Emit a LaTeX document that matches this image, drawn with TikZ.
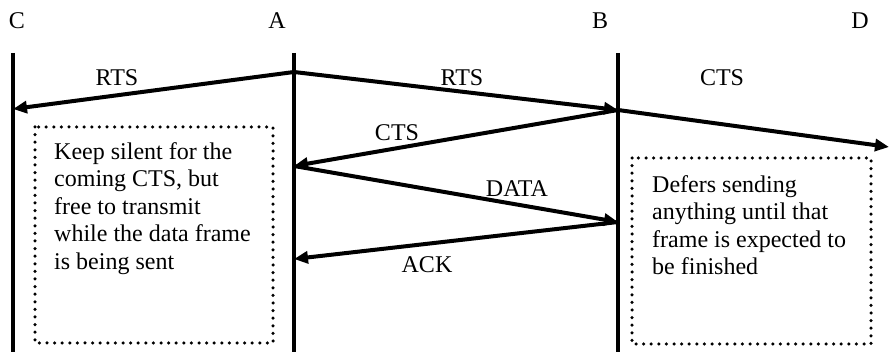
\documentclass[tikz,border=0pt]{standalone}
\usepackage{fontspec}
\setmainfont{Liberation Serif}
\usetikzlibrary{arrows.meta}
\begin{document}
\begin{tikzpicture}[x=1pt,y=-1pt,
  lifeline/.style={line width=4pt},
  msg/.style={line width=4pt,-{Triangle[length=14pt,width=12pt]}},
  dotbox/.style={line width=3.5pt,line cap=round,dash pattern=on 0pt off 7.6pt},
  lbl/.style={font=\fontsize{24}{27.5}\selectfont,inner sep=0pt},
  boxtext/.style={font=\fontsize{24}{27.6}\selectfont,inner sep=0pt,align=left,anchor=north west}]
\useasboundingbox (0,0) rectangle (889,352);
% station labels
\node[lbl] (labC) at (17,21) {C};
\node[lbl] (labA) at (277,21) {A};
\node[lbl] (labB) at (600,21) {B};
\node[lbl] (labD) at (860,21) {D};
% lifelines
\coordinate (Ctop) at (13,53); \coordinate (Cbot) at (13,352);
\coordinate (Atop) at (294,53); \coordinate (Abot) at (294,352);
\coordinate (Btop) at (618,53); \coordinate (Bbot) at (618,352);
\draw[lifeline] (Ctop) -- (Cbot);
\draw[lifeline] (Atop) -- (Abot);
\draw[lifeline] (Btop) -- (Bbot);
% message points
\coordinate (A1) at (294,72);
\coordinate (C1) at (13,109);
\coordinate (B1) at (618,110);
\coordinate (D1) at (889,147);
\coordinate (A2) at (294,166);
\coordinate (B2) at (618,222);
\coordinate (A3) at (294,259);
\draw[msg] (A1) -- (C1);
\draw[msg] (A1) -- (B1);
\draw[msg] (B1) -- (A2);
\draw[msg] (B1) -- (D1);
\draw[msg] (A2) -- (B2);
\draw[msg] (B2) -- (A3);
% message labels
\node[lbl] (rts1) at (117,78) {RTS};
\node[lbl] (rts2) at (462,78) {RTS};
\node[lbl] (cts1) at (397,133) {CTS};
\node[lbl] (cts2) at (722,78) {CTS};
\node[lbl] (data) at (517,189) {DATA};
\node[lbl] (ack) at (427,265) {ACK};
% dotted boxes
\coordinate (L1) at (35,127); \coordinate (L2) at (273,343);
\coordinate (R1) at (632,158); \coordinate (R2) at (871,344);
\draw[dotbox] (L1) rectangle (L2);
\draw[dotbox] (R1) rectangle (R2);
\node[boxtext] (ltext) at (54,142) {Keep silent for the\\coming CTS, but\\free to transmit\\while the data frame\\is being sent};
\node[boxtext] (rtext) at (652,175) {Defers sending\\anything until that\\frame is expected to\\be finished};
\end{tikzpicture}
\end{document}
